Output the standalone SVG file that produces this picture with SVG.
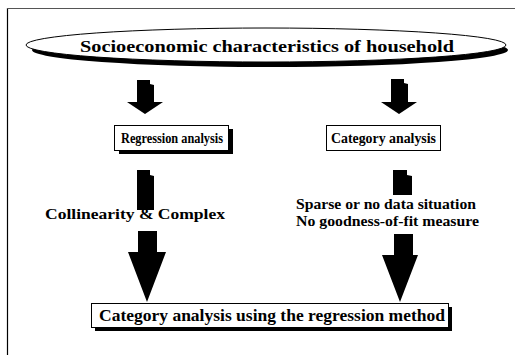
<svg xmlns="http://www.w3.org/2000/svg" width="515" height="355" viewBox="0 0 515 355">
<style>
.t{font-family:"Liberation Serif","Times New Roman",serif;font-weight:bold;fill:#000}
.box{fill:#fff;stroke:#000;stroke-width:1}
.sh{fill:#000}
.ar{fill:#000}
</style>
<rect width="515" height="355" fill="#fff"/>
<g id="frame">
<line x1="7.5" y1="8" x2="7.5" y2="355" stroke="#000" stroke-width="1.2"/>
<line x1="7" y1="8.5" x2="515" y2="8.5" stroke="#555" stroke-width="1"/>
</g>
<g id="connectors">
<g id="arrow-left-1">
<polygon class="ar" points="137,80 150,80 150,84 154,85 154,102 163,102 145,114 127,102 137,102"/>
</g>
<g id="arrow-right-1">
<polygon class="ar" points="391,79 404,79 404,83 408,84 408,102 417,102 399,114 381,102 391,102"/>
</g>
<g id="arrow-left-2">
<polygon class="ar" points="137,170 150,170 150,175 154,176 154,210 137,210"/>
<polygon class="ar" points="138,231 157,231 157,252 166,252 147,302 128,252 138,252"/>
</g>
<g id="arrow-right-2">
<polygon class="ar" points="393,170 407,170 407,175 412,176 412,195 393,195"/>
<polygon class="ar" points="394,234 413,234 413,255 418,255 400,302 382,255 394,255"/>
</g>
</g>
<g id="node-top">
<ellipse cx="270" cy="50" rx="238" ry="17" class="sh"/>
<ellipse cx="266" cy="45" rx="240" ry="17" class="box"/>
<text class="t" x="80" y="52" font-size="17" textLength="374" lengthAdjust="spacingAndGlyphs">Socioeconomic characteristics of household</text>
</g>
<g id="node-regression">
<rect x="119" y="129" width="114" height="25" class="sh"/>
<rect x="114.5" y="125.5" width="114" height="25" class="box"/>
<text class="t" x="121" y="143" font-size="14.5" textLength="102" lengthAdjust="spacingAndGlyphs">Regression analysis</text>
</g>
<g id="node-category">
<rect x="326.5" y="125.5" width="114" height="25" class="box"/>
<text class="t" x="331" y="143" font-size="14.5" textLength="105" lengthAdjust="spacingAndGlyphs">Category analysis</text>
</g>
<g id="label-collinearity">
<text class="t" x="45" y="219" font-size="15" textLength="180" lengthAdjust="spacingAndGlyphs">Collinearity &amp; Complex</text>
</g>
<g id="label-sparse">
<text class="t" x="296" y="209" font-size="15" textLength="180" lengthAdjust="spacingAndGlyphs">Sparse or no data situation</text>
<text class="t" x="296" y="226" font-size="15" textLength="183" lengthAdjust="spacingAndGlyphs">No goodness-of-fit measure</text>
</g>
<g id="node-bottom">
<rect x="95" y="307" width="357" height="24" class="sh"/>
<rect x="91.5" y="303.5" width="357" height="24" class="box"/>
<text class="t" x="99" y="321" font-size="16" textLength="346" lengthAdjust="spacingAndGlyphs">Category analysis using the regression method</text>
</g>
</svg>
